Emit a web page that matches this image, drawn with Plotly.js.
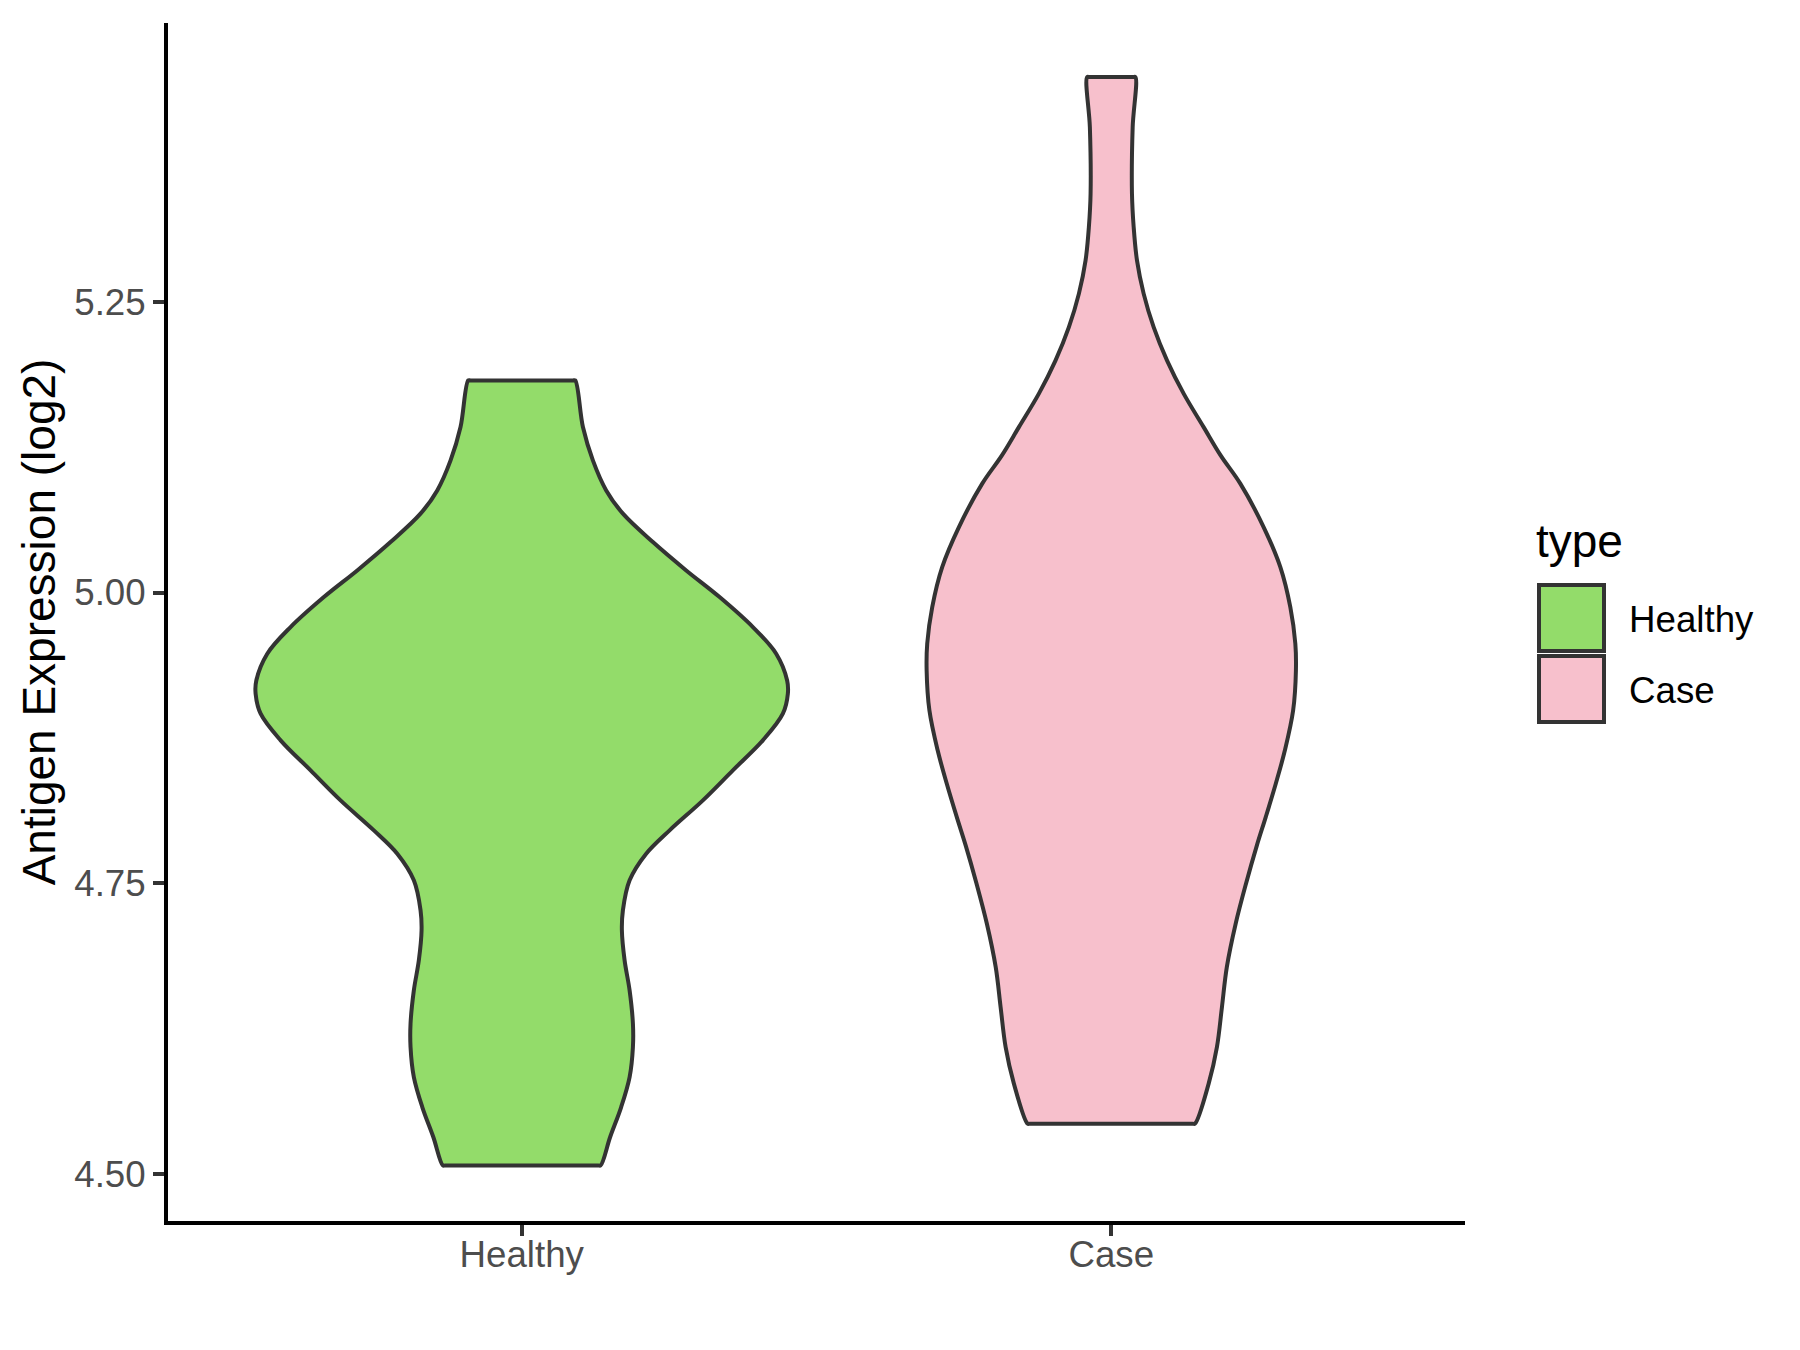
<!DOCTYPE html>
<html>
<head>
<meta charset="utf-8">
<script src="https://cdn.plot.ly/plotly-3.0.1.min.js"></script>
<style>html,body{margin:0;padding:0;background:#ffffff;}</style>
</head>
<body>
<div id="chart" style="width:1800px;height:1350px;"></div>
<script>
// ---------------- data ----------------
const categories = ['Healthy', 'Case'];
const fillColors = ['#93DC6A', '#F7C0CC'];

// violin outline: y value (top -> bottom) and half-width in x-axis units
const healthyY = [5.1825, 5.1424, 5.1137, 5.0879, 5.0679, 5.0435, 5.0191, 4.9962, 4.9704, 4.9475,
  4.9245, 4.9131, 4.8959, 4.8730, 4.8472, 4.8214, 4.7956, 4.7755, 4.7526, 4.7268,
  4.7096, 4.6838, 4.6580, 4.6294, 4.6093, 4.5835, 4.5577, 4.5319, 4.5075];
const healthyHalfWidth = [0.0907, 0.1038, 0.1207, 0.1433, 0.1717, 0.2225, 0.2790, 0.3356, 0.3921, 0.4316,
  0.4502, 0.4514, 0.4429, 0.4090, 0.3581, 0.3073, 0.2508, 0.2111, 0.1830, 0.1716,
  0.1699, 0.1745, 0.1830, 0.1886, 0.1886, 0.1830, 0.1687, 0.1500, 0.1338];

const caseY = [5.4433, 5.4003, 5.3430, 5.3143, 5.2857, 5.2571, 5.2283, 5.1997, 5.1711, 5.1423,
  5.1180, 5.0937, 5.0564, 5.0220, 4.9876, 4.9561, 4.9331, 4.8988, 4.8644, 4.8357,
  4.8070, 4.7827, 4.7497, 4.7153, 4.6780, 4.6436, 4.6092, 4.5778, 4.5434];
const caseHalfWidth = [0.0409, 0.0363, 0.0351, 0.0380, 0.0436, 0.0549, 0.0719, 0.0945, 0.1228, 0.1567,
  0.1855, 0.2189, 0.2584, 0.2868, 0.3037, 0.3122, 0.3132, 0.3085, 0.2945, 0.2790,
  0.2620, 0.2470, 0.2285, 0.2110, 0.1960, 0.1877, 0.1792, 0.1652, 0.1420];

const yTickVals = [4.50, 4.75, 5.00, 5.25];
const yTickText = ['4.50', '4.75', '5.00', '5.25'];
const yTitle = 'Antigen Expression (log2)';
const legendTitle = 'type';

// ---------------- build traces ----------------
const FONT = 'Liberation Sans, Arial, Helvetica, sans-serif';
const OUTLINE = '#333333';

function violinTrace(pos, ys, hws, color, name) {
  const n = ys.length;
  const top = ys[0], bot = ys[n - 1];
  const eps = 0.004;
  const xs = [], yy = [];
  function p(x, y) { xs.push(x); yy.push(y); }
  p(pos, top);
  p(pos - hws[0] + eps, top);
  for (let i = 0; i < n; i++) p(pos - hws[i], ys[i]);
  p(pos - hws[n - 1] + eps, bot);
  p(pos + hws[n - 1] - eps, bot);
  for (let i = n - 1; i >= 0; i--) p(pos + hws[i], ys[i]);
  p(pos + hws[0] - eps, top);
  p(pos, top);
  return {
    type: 'scatter', mode: 'lines', name: name, x: xs, y: yy,
    fill: 'toself', fillcolor: color,
    line: {color: OUTLINE, width: 4, shape: 'spline', smoothing: 1},
    showlegend: false, hoverinfo: 'skip'
  };
}

const data = [
  violinTrace(1, healthyY, healthyHalfWidth, fillColors[0], categories[0]),
  violinTrace(2, caseY, caseHalfWidth, fillColors[1], categories[1])
];

// ---------------- layout ----------------
const W = 1800, H = 1350;
const M = {l: 168, r: 335, t: 23, b: 129};
const PW = W - M.l - M.r, PH = H - M.t - M.b;
const px2x = px => (px - M.l) / PW;
const py2y = py => (H - M.b - py) / PH;

const shapes = [];
const annotations = [];
annotations.push({xref: 'paper', yref: 'paper', x: px2x(1534), y: py2y(541), xanchor: 'left', yanchor: 'middle',
  text: legendTitle, showarrow: false, font: {family: FONT, size: 46, color: '#000000'}});
const keyTops = [585, 656];
categories.forEach((c, i) => {
  shapes.push({type: 'rect', xref: 'paper', yref: 'paper',
    x0: px2x(1539), x1: px2x(1604), y0: py2y(keyTops[i]), y1: py2y(keyTops[i] + 66),
    fillcolor: fillColors[i], line: {color: OUTLINE, width: 4}});
  annotations.push({xref: 'paper', yref: 'paper', x: px2x(1627), y: py2y(keyTops[i] + 34),
    xanchor: 'left', yanchor: 'middle', text: c, showarrow: false,
    font: {family: FONT, size: 36.7, color: '#000000'}});
});

const layout = {
  width: W, height: H,
  margin: M,
  paper_bgcolor: '#ffffff', plot_bgcolor: '#ffffff',
  showlegend: false,
  font: {family: FONT},
  xaxis: {
    range: [0.4, 2.6], tickvals: [1, 2], ticktext: categories,
    showgrid: false, zeroline: false, showline: true, linecolor: '#000000', linewidth: 4,
    ticks: 'outside', ticklen: 11, tickwidth: 4, tickcolor: OUTLINE,
    ticklabelstandoff: -13,
    tickfont: {family: FONT, size: 36.7, color: '#4D4D4D'}, fixedrange: true
  },
  yaxis: {
    range: [4.4597, 5.4898], tickvals: yTickVals, ticktext: yTickText,
    showgrid: false, zeroline: false, showline: true, linecolor: '#000000', linewidth: 4,
    ticks: 'outside', ticklen: 11, tickwidth: 4, tickcolor: OUTLINE,
    tickfont: {family: FONT, size: 36.7, color: '#4D4D4D'},
    title: {text: yTitle, font: {family: FONT, size: 46, color: '#000000'}, standoff: 5},
    fixedrange: true
  },
  shapes: shapes,
  annotations: annotations
};

Plotly.newPlot('chart', data, layout, {displayModeBar: false, staticPlot: true});
</script>
</body>
</html>
